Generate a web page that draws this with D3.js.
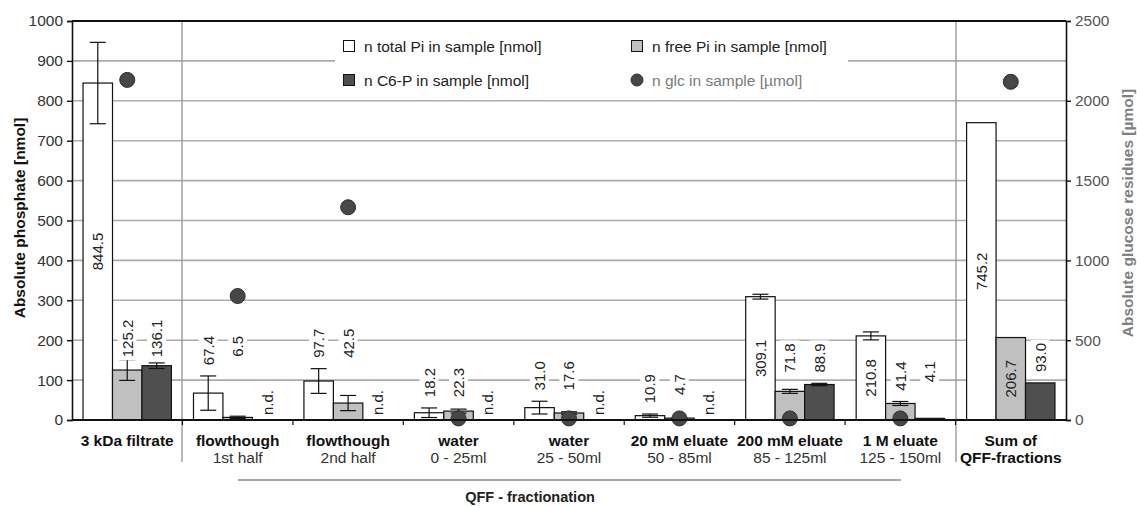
<!DOCTYPE html>
<html>
<head>
<meta charset="utf-8">
<script src="https://cdn.jsdelivr.net/npm/d3@7/dist/d3.min.js"></script>
<style>
  html, body { margin: 0; padding: 0; background: #fff; }
  svg { display: block; font-family: "Liberation Sans", Arial, sans-serif; }
</style>
</head>
<body>
<svg id="chart" width="1137" height="506"></svg>
<script>
// Fractions of the phosphate / glucose balance
const categories = ["3 kDa filtrate", "flowthough", "flowthough", "water", "water",
  "20 mM eluate", "200 mM eluate", "1 M eluate", "Sum of"];
const subLabels = ["", "1st half", "2nd half", "0 - 25ml", "25 - 50ml",
  "50 - 85ml", "85 - 125ml", "125 - 150ml", "QFF-fractions"];
const subBold = [false, false, false, false, false, false, false, false, true];

// n total Pi, n free Pi, n C6-P [nmol]; null = not determined
const totalPi = [844.5, 67.4, 97.7, 18.2, 31.0, 10.9, 309.1, 210.8, 745.2];
const freePi  = [125.2, 6.5, 42.5, 22.3, 17.6, 4.7, 71.8, 41.4, 206.7];
const c6p     = [136.1, null, null, null, null, null, 88.9, 4.1, 93.0];

// standard deviations (none for the summed column)
const totalErr = [102, 43, 31, 12, 16, 4, 6, 10, null];
const freeErr  = [26, 3, 19, 5, 3, 1, 5, 5, null];
const c6pErr   = [7, null, null, null, null, null, 3, null, null];

// n glc in sample [µmol] (right axis)
const glc = [2131, 777, 1333, 10, 10, 10, 10, 10, 2119];

const leftTicks = [0, 100, 200, 300, 400, 500, 600, 700, 800, 900, 1000];
const rightTicks = [0, 500, 1000, 1500, 2000, 2500];

const seriesNames = ["n total Pi in sample [nmol]", "n free Pi in sample [nmol]",
  "n C6-P in sample [nmol]", "n glc in sample [µmol]"];
const seriesFill = ["#ffffff", "#c0c0c0", "#4f4f4f"];

const svg = d3.select("#chart");
const m = { left: 72, right: 1066, top: 21, bottom: 420 };

const x = d3.scaleBand().domain(d3.range(categories.length)).range([m.left, m.right]);
const y = d3.scaleLinear().domain([0, 1000]).range([m.bottom, m.top]);
const y2 = d3.scaleLinear().domain([0, 2500]).range([m.bottom, m.top]);
const inner = d3.scaleBand().domain([0, 1, 2]).range([0, x.bandwidth()]).paddingOuter(0.375).paddingInner(0);

// horizontal grid
svg.append("g").selectAll("line").data(leftTicks.filter(t => t > 0 && t < 1000)).join("line")
  .attr("x1", m.left).attr("x2", m.right)
  .attr("y1", d => y(d)).attr("y2", d => y(d))
  .attr("stroke", "#ababab").attr("stroke-width", 1.6);

// group separators
const sepIdx = [1, 8];
svg.append("g").selectAll("line").data(sepIdx).join("line")
  .attr("x1", d => Math.round(x(d))).attr("x2", d => Math.round(x(d)))
  .attr("y1", m.top).attr("y2", 462)
  .attr("stroke", "#9a9a9a").attr("stroke-width", 1.4);

// legend panel
const lg = svg.append("g");
lg.append("rect").attr("x", 335).attr("y", 23).attr("width", 513).attr("height", 74).attr("fill", "#fff");
const legendItems = [
  { i: 0, lx: 343, ly: 46 }, { i: 1, lx: 631, ly: 46 },
  { i: 2, lx: 343, ly: 80 }, { i: 3, lx: 631, ly: 80 }
];
legendItems.forEach(it => {
  if (it.i < 3) {
    lg.append("rect").attr("x", it.lx + 0.5).attr("y", it.ly - 5.5).attr("width", 11).attr("height", 11)
      .attr("fill", seriesFill[it.i]).attr("stroke", "#111").attr("stroke-width", 1);
  } else {
    lg.append("circle").attr("cx", it.lx + 6).attr("cy", it.ly).attr("r", 6)
      .attr("fill", "#474747").attr("stroke", "#333");
  }
  lg.append("text").attr("x", it.lx + 21).attr("y", it.ly).attr("dy", "0.36em")
    .attr("font-size", 15.5).attr("fill", it.i === 3 ? "#7a7a7a" : "#222")
    .text(seriesNames[it.i]);
});

// bars
const series = [totalPi, freePi, c6p];
const errs = [totalErr, freeErr, c6pErr];
const barData = [];
categories.forEach((c, gi) => {
  series.forEach((s, si) => {
    barData.push({ gi, si, v: s[gi], e: errs[si][gi] });
  });
});
const bx = d => x(d.gi) + inner(d.si);
const bw = inner.bandwidth();

svg.append("g").selectAll("rect").data(barData.filter(d => d.v !== null)).join("rect")
  .attr("x", d => bx(d)).attr("width", bw)
  .attr("y", d => y(d.v)).attr("height", d => y(0) - y(d.v))
  .attr("fill", d => seriesFill[d.si]).attr("stroke", "#111").attr("stroke-width", 1.2);

// error bars
const eg = svg.append("g").attr("stroke", "#111").attr("stroke-width", 1.2);
barData.filter(d => d.v !== null && d.e !== null).forEach(d => {
  const cx = bx(d) + bw / 2, top = y(d.v + d.e), bot = y(Math.max(0, d.v - d.e));
  eg.append("line").attr("x1", cx).attr("x2", cx).attr("y1", top).attr("y2", bot);
  eg.append("line").attr("x1", cx - 8).attr("x2", cx + 8).attr("y1", top).attr("y2", top);
  eg.append("line").attr("x1", cx - 8).attr("x2", cx + 8).attr("y1", bot).attr("y2", bot);
});

// value labels
const lblG = svg.append("g").attr("font-size", 15).attr("fill", "#222");
function vLabel(px, py, txt, anchor, box) {
  const g = lblG.append("g").attr("transform", `translate(${px},${py}) rotate(-90)`);
  const t = g.append("text").attr("text-anchor", anchor).attr("dy", "0.36em").text(txt);
  if (box) {
    const b = t.node().getBBox();
    g.insert("rect", "text").attr("x", b.x - 3).attr("y", b.y - 1)
      .attr("width", b.width + 6).attr("height", b.height + 2).attr("fill", "#fff");
  }
}
categories.forEach((c, gi) => {
  const grp = barData.filter(d => d.gi === gi);
  const small = grp.filter(d => d.v !== null && d.v < 200);
  const peak = d3.max(small, d => d.v + (d.e || 0)) || 0;
  const labelTop = y(peak) - 40;
  grp.forEach(d => {
    const cx = bx(d) + bw / 2;
    if (d.v === null) {
      vLabel(cx, y(0) - 5, "n.d.", "start", true);
    } else if (d.v >= 200) {
      vLabel(cx, (y(d.v) + y(0)) / 2, d.v.toFixed(1), "middle", false);
    } else {
      vLabel(cx, labelTop, d.v.toFixed(1), "end", true);
    }
  });
});

// glucose points
svg.append("g").selectAll("circle").data(glc).join("circle")
  .attr("cx", (d, i) => x(i) + x.bandwidth() / 2).attr("cy", d => y2(d)).attr("r", 7.5)
  .attr("fill", "#474747").attr("stroke", "#2e2e2e").attr("stroke-width", 1);

// frame
svg.append("line").attr("x1", m.left).attr("x2", m.right).attr("y1", m.top).attr("y2", m.top)
  .attr("stroke", "#111").attr("stroke-width", 2);

// left axis
const ax = svg.append("g").attr("transform", `translate(${m.left},0)`)
  .call(d3.axisLeft(y).tickValues(leftTicks).tickFormat(d3.format("d")).tickSize(5).tickPadding(4));
ax.select(".domain").attr("stroke", "#111").attr("stroke-width", 1.6);
ax.selectAll(".tick line").attr("stroke", "#111").attr("stroke-width", 1.4);
ax.selectAll("text").attr("font-size", 15.5).attr("fill", "#333").attr("font-family", "Liberation Sans, Arial, sans-serif");

// right axis
const ax2 = svg.append("g").attr("transform", `translate(${m.right},0)`)
  .call(d3.axisRight(y2).tickValues(rightTicks).tickFormat(d3.format("d")).tickSize(5).tickPadding(4));
ax2.select(".domain").attr("stroke", "#111").attr("stroke-width", 1.6);
ax2.selectAll(".tick line").attr("stroke", "#111").attr("stroke-width", 1.4);
ax2.selectAll("text").attr("font-size", 15.5).attr("fill", "#555").attr("font-family", "Liberation Sans, Arial, sans-serif");

// bottom axis with ticks at group boundaries
svg.append("line").attr("x1", m.left).attr("x2", m.right).attr("y1", m.bottom).attr("y2", m.bottom)
  .attr("stroke", "#111").attr("stroke-width", 1.8);
svg.append("g").selectAll("line").data(d3.range(1, categories.length)).join("line")
  .attr("x1", d => x(d)).attr("x2", d => x(d))
  .attr("y1", m.bottom).attr("y2", m.bottom + 5)
  .attr("stroke", "#111").attr("stroke-width", 1.2);

// category labels
const cl = svg.append("g").attr("text-anchor", "middle").attr("fill", "#111");
categories.forEach((c, i) => {
  const cx = x(i) + x.bandwidth() / 2;
  cl.append("text").attr("x", cx).attr("y", 446).attr("font-size", 15.5).attr("font-weight", "bold").text(c);
  if (subLabels[i]) {
    cl.append("text").attr("x", cx).attr("y", 463).attr("font-size", 15.5)
      .attr("font-weight", subBold[i] ? "bold" : "normal").attr("fill", subBold[i] ? "#111" : "#333")
      .text(subLabels[i]);
  }
});

// QFF bracket
svg.append("line").attr("x1", 238).attr("x2", 901).attr("y1", 480).attr("y2", 480)
  .attr("stroke", "#8a8a8a").attr("stroke-width", 1.4);
svg.append("text").attr("x", 530).attr("y", 502).attr("text-anchor", "middle")
  .attr("font-size", 14.5).attr("font-weight", "bold").attr("fill", "#222").text("QFF - fractionation");

// axis titles
svg.append("text").attr("transform", "translate(25,218) rotate(-90)").attr("text-anchor", "middle")
  .attr("font-size", 15.5).attr("font-weight", "bold").attr("fill", "#111").text("Absolute phosphate [nmol]");
svg.append("text").attr("transform", "translate(1133,213) rotate(-90)").attr("text-anchor", "middle")
  .attr("font-size", 15.5).attr("font-weight", "bold").attr("fill", "#808080").text("Absolute glucose residues [µmol]");
</script>
</body>
</html>
